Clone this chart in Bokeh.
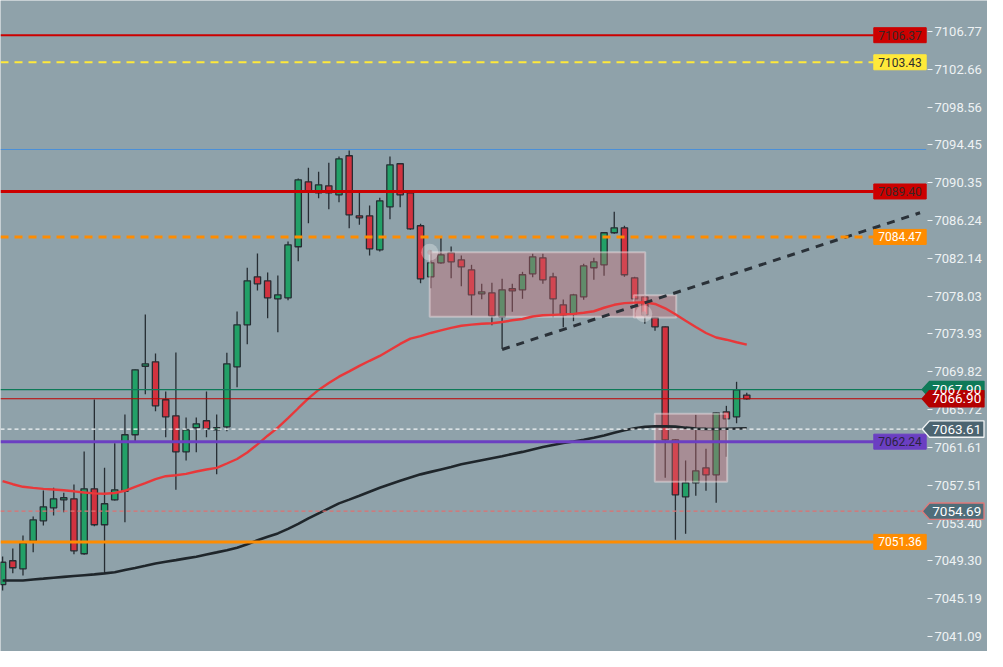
from bokeh.plotting import figure
from bokeh.models import Range1d, FixedTicker, PrintfTickFormatter, ColumnDataSource
from bokeh.core.properties import value
from bokeh.embed import file_html
from bokeh.resources import INLINE

# ---------------- data ----------------
opens = [7046.73, 7049.31, 7048.44, 7051.43, 7053.65, 7055.06, 7055.93, 7056.04, 7050.07, 7057.12,
         7053.22, 7055.93, 7056.86, 7062.99, 7070.43, 7070.91, 7066.79, 7065.05, 7061.14, 7063.75,
         7064.51, 7063.53, 7063.85, 7070.37, 7074.93, 7080.14, 7079.70, 7077.75, 7077.86, 7083.40,
         7090.45, 7089.26, 7090.02, 7089.04, 7093.28, 7086.76, 7086.76, 7083.07, 7087.74, 7092.41,
         7089.26, 7085.68, 7080.14, 7081.66, 7082.74, 7081.98, 7080.90, 7078.29, 7078.40, 7075.80,
         7078.84, 7078.73, 7080.46, 7082.20, 7080.14, 7077.10, 7076.12, 7077.97, 7081.12, 7081.44,
         7084.92, 7085.46, 7080.03, 7077.97, 7075.69, 7074.71, 7062.44, 7056.25, 7057.77, 7059.40,
         7058.64, 7065.48, 7064.94, 7067.30]
highs = [7049.77, 7050.64, 7052.05, 7054.12, 7056.94, 7057.23, 7056.69, 7057.59, 7061.17, 7066.82,
         7059.40, 7062.07, 7065.19, 7070.08, 7076.05, 7071.81, 7067.69, 7071.92, 7064.86, 7064.86,
         7067.69, 7065.19, 7071.89, 7076.37, 7081.12, 7082.67, 7080.61, 7080.28, 7083.97, 7090.81,
         7091.97, 7091.54, 7092.52, 7093.20, 7093.85, 7089.26, 7087.88, 7088.72, 7093.20, 7092.50,
         7089.30, 7085.89, 7082.99, 7084.44, 7083.43, 7082.45, 7081.44, 7079.38, 7079.49, 7079.92,
         7079.38, 7080.68, 7082.64, 7082.64, 7080.57, 7077.67, 7078.29, 7081.55, 7082.20, 7085.00,
         7087.20, 7085.68, 7080.14, 7078.18, 7075.72, 7074.75, 7062.50, 7060.20, 7065.16, 7061.47,
         7065.40, 7066.13, 7068.74, 7067.55]
lows = [7046.08, 7047.96, 7047.71, 7050.24, 7053.14, 7054.22, 7054.58, 7050.02, 7049.95, 7053.06,
        7047.96, 7055.85, 7053.50, 7062.29, 7067.39, 7065.55, 7062.72, 7057.01, 7060.20, 7061.10,
        7062.72, 7058.71, 7063.38, 7068.15, 7072.82, 7078.65, 7075.64, 7074.12, 7077.60, 7081.83,
        7085.96, 7088.67, 7087.48, 7088.24, 7085.42, 7085.78, 7082.45, 7082.89, 7086.39, 7087.70,
        7085.24, 7079.44, 7078.90, 7081.55, 7079.99, 7079.12, 7075.97, 7077.71, 7074.88, 7072.32,
        7076.34, 7077.75, 7080.10, 7079.38, 7075.75, 7074.67, 7075.32, 7077.64, 7079.81, 7080.25,
        7084.81, 7080.14, 7077.21, 7075.04, 7074.28, 7058.32, 7051.59, 7052.24, 7056.36, 7056.91,
        7055.60, 7060.60, 7064.24, 7066.80]
closes = [7049.15, 7048.55, 7051.26, 7053.76, 7055.17, 7056.04, 7056.15, 7050.39, 7057.12, 7053.22,
          7055.50, 7057.01, 7062.99, 7070.04, 7070.69, 7066.13, 7064.94, 7061.14, 7063.53, 7064.18,
          7063.64, 7063.75, 7070.69, 7074.93, 7079.70, 7079.38, 7077.86, 7078.18, 7083.61, 7090.67,
          7089.48, 7090.13, 7089.26, 7092.95, 7086.87, 7086.54, 7083.18, 7088.39, 7092.30, 7089.04,
          7085.35, 7079.92, 7081.66, 7082.53, 7081.77, 7081.22, 7078.18, 7078.51, 7075.90, 7078.73,
          7078.62, 7080.36, 7082.31, 7079.81, 7077.75, 7076.01, 7078.18, 7081.33, 7081.77, 7084.92,
          7085.46, 7080.36, 7077.75, 7076.01, 7074.71, 7062.44, 7056.47, 7057.77, 7059.08, 7058.64,
          7065.37, 7064.72, 7067.87, 7066.90]

ma_fast = [7057.96, 7057.62, 7057.34, 7057.22, 7057.11, 7057.05, 7056.97, 7056.85, 7056.72, 7056.63,
           7056.58, 7056.67, 7056.91, 7057.34, 7057.74, 7058.18, 7058.49, 7058.60, 7058.74, 7059.00,
           7059.22, 7059.39, 7059.87, 7060.36, 7061.06, 7061.94, 7062.89, 7063.76, 7064.79, 7065.87,
           7066.94, 7067.86, 7068.60, 7069.30, 7069.87, 7070.47, 7071.02, 7071.55, 7072.20, 7072.85,
           7073.42, 7073.69, 7074.04, 7074.32, 7074.60, 7074.82, 7074.95, 7075.04, 7075.09, 7075.23,
           7075.42, 7075.56, 7075.83, 7075.96, 7076.01, 7076.06, 7076.11, 7076.23, 7076.40, 7076.78,
           7077.10, 7077.28, 7077.34, 7077.38, 7077.19, 7076.72, 7076.07, 7075.36, 7074.69, 7074.04,
           7073.55, 7073.31, 7073.03, 7072.77]
ma_slow = [7047.17, 7047.17, 7047.17, 7047.28, 7047.37, 7047.47, 7047.56, 7047.65, 7047.74, 7047.83,
           7047.94, 7048.06, 7048.30, 7048.52, 7048.76, 7049.02, 7049.21, 7049.38, 7049.57, 7049.75,
           7049.99, 7050.22, 7050.46, 7050.73, 7051.10, 7051.53, 7051.92, 7052.28, 7052.77, 7053.31,
           7053.91, 7054.45, 7054.99, 7055.54, 7055.95, 7056.37, 7056.80, 7057.23, 7057.62, 7058.00,
           7058.36, 7058.69, 7058.96, 7059.23, 7059.50, 7059.79, 7060.01, 7060.23, 7060.45, 7060.66,
           7060.90, 7061.13, 7061.40, 7061.66, 7061.88, 7062.10, 7062.26, 7062.44, 7062.66, 7062.90,
           7063.21, 7063.47, 7063.69, 7063.85, 7063.92, 7063.90, 7063.87, 7063.76, 7063.66, 7063.63,
           7063.61, 7063.64, 7063.67, 7063.70]

y_ticks = [7041.09, 7045.19, 7049.30, 7053.40, 7057.51, 7061.61, 7065.72, 7069.82, 7073.93,
           7078.03, 7082.14, 7086.24, 7090.35, 7094.45, 7098.56, 7102.66, 7106.77]

# horizontal levels with boxed labels
level_prices = [7106.37, 7103.43, 7089.40, 7084.47, 7062.24, 7051.36]
level_colors = ["#cc0000", "#ffe93a", "#cc0000", "#ff8c00", "#6b3fc2", "#ff8c00"]
level_text_colors = ["#3a2626", "#2e2e2e", "#3a2626", "#ffffff", "#2a2340", "#ffffff"]
level_widths = [2, 2, 3, 3, 3, 3]
level_dashes = ["solid", "8 6", "solid", "8 6", "solid", "solid"]

# plain reference line
blue_level = 7093.96

# arrow price tags at the axis
tag_prices = [7067.90, 7066.90, 7063.61, 7054.69]
tag_fill = ["#0e7a58", "#b40000", "#4c6470", "#4f6d79"]
tag_border = ["#0e7a58", "#b40000", "#f2f5f6", "#e07a7a"]
tag_line_colors = ["#0e7a58", "#c00000", "#f2f5f6", "#e07070"]
tag_line_dash = ["solid", "solid", "4 3", "4 3"]

# zones (start bar, end bar, low, high)
zone_x0 = [41.9, 61.92, 63.98]
zone_x1 = [63.04, 66.08, 71.08]
zone_lo = [7075.80, 7075.72, 7057.88]
zone_hi = [7082.81, 7078.14, 7065.26]
zone_mark_x = [41.9, 62.9]
zone_mark_y = [7082.81, 7076.12]

# trend line (bar index, price)
trend_x = [49.0, 90.0]
trend_y = [7072.25, 7087.09]

# ---------------- layout helpers ----------------
W, H = 987, 651
PX_BAR = 10.194
PX_PT = 9.211
X0 = -0.206
X1 = X0 + W / PX_BAR
Y1 = 7110.136
Y0 = Y1 - H / PX_PT
BG = "#8fa2aa"
FONT = "Roboto"


def ix(px):
    """x pixel inside the frame -> bar index"""
    return X0 + px / PX_BAR


def dy(px):
    return px / PX_PT


p = figure(width=W, height=H, output_backend="svg", toolbar_location=None,
           x_range=Range1d(X0, X1), y_range=Range1d(Y0, Y1),
           y_axis_location="right", x_axis_location=None,
           background_fill_color=BG, border_fill_color=BG,
           min_border_left=0, min_border_top=0, min_border_bottom=0, min_border_right=0)
p.outline_line_color = None
p.grid.visible = False

# price axis drawn back over the chart area, like the trading terminal
ax = p.yaxis[0]
ax.ticker = FixedTicker(ticks=y_ticks)
ax.formatter = PrintfTickFormatter(format="%.2f")
ax.axis_line_color = None
ax.major_tick_in = 60
ax.major_tick_out = -55
ax.minor_tick_line_color = None
ax.major_tick_line_color = "#eef2f4"
ax.major_tick_line_width = 1
ax.major_label_text_color = "#eef2f4"
ax.major_label_text_font = FONT
ax.major_label_text_font_size = "13px"
ax.major_label_standoff = -53

# ---------------- candles ----------------
n = len(opens)
idx = list(range(n))
up = [c >= o for o, c in zip(opens, closes)]
src = ColumnDataSource(dict(
    x=idx, high=highs, low=lows,
    top=[max(o, c) for o, c in zip(opens, closes)],
    bottom=[min(o, c) for o, c in zip(opens, closes)],
    color=["#22a067" if u else "#d2323f" for u in up],
))
OUT = "#262d33"
p.segment(x0="x", x1="x", y0="low", y1="high", source=src, line_color=OUT, line_width=1.3)
p.vbar(x="x", width=0.62, top="top", bottom="bottom", source=src,
       fill_color="color", line_color=OUT, line_width=1.3)

# zones
p.quad(left=zone_x0, right=zone_x1, bottom=zone_lo, top=zone_hi,
       fill_color="#d46a72", fill_alpha=0.36, line_color="#f4e6e8", line_alpha=0.45, line_width=2)
p.scatter(zone_mark_x, zone_mark_y, size=17, fill_color="#ffffff", fill_alpha=0.3, line_color=None)
p.scatter(zone_mark_x, zone_mark_y, size=5, fill_color="#b9a3a8", fill_alpha=0.7, line_color=None)

# moving averages
p.line(idx, ma_slow, line_color="#1f262b", line_width=2.6)
p.line(idx, ma_fast, line_color="#e8383a", line_width=2.4)

# trend line
p.line(trend_x, trend_y, line_color="#2a3138", line_width=3, line_dash="8 7")

# plain blue level
p.segment(x0=[X0], x1=[ix(925.7)], y0=[blue_level], y1=[blue_level], line_color="#4a8fd8", line_width=1)

# tag lines
tag_tip = ix(921.7)
for pr, lc, ld in zip(tag_prices, tag_line_colors, tag_line_dash):
    p.segment(x0=[X0], x1=[tag_tip], y0=[pr], y1=[pr], line_color=lc, line_width=1.2, line_dash=ld)

# boxed levels
box_l = ix(873.3)
box_r = ix(925.7)
for pr, c, w, d in zip(level_prices, level_colors, level_widths, level_dashes):
    p.segment(x0=[X0], x1=[box_l], y0=[pr], y1=[pr], line_color=c, line_width=w, line_dash=d)
p.quad(left=[box_l] * len(level_prices), right=[box_r] * len(level_prices),
       bottom=[v - dy(7.5) for v in level_prices], top=[v + dy(7.5) for v in level_prices],
       fill_color=level_colors, line_color=level_colors, line_width=1)
p.text(x=[(box_l + box_r) / 2] * len(level_prices), y=level_prices,
       text=["%.2f" % v for v in level_prices], text_color=level_text_colors,
       text_align="center", text_baseline="middle", text_font=value(FONT), text_font_size="12px")

# arrow price tags over the axis
b_l = ix(929.0)
b_r = ix(983.5)
h = dy(8.2)
xs, ys = [], []
for pr in tag_prices:
    xs.append([tag_tip, b_l, b_r, b_r, b_l])
    ys.append([pr, pr + h, pr + h, pr - h, pr - h])
p.patches(xs, ys, fill_color=tag_fill, line_color=tag_border, line_width=1.3, level="overlay")
p.text(x=[(b_l + b_r) / 2] * len(tag_prices), y=tag_prices,
       text=["%.2f" % v for v in tag_prices], text_color="#ffffff", level="overlay",
       text_align="center", text_baseline="middle", text_font=value(FONT), text_font_size="13.5px")

open("out.html", "w").write(file_html(p, INLINE))
